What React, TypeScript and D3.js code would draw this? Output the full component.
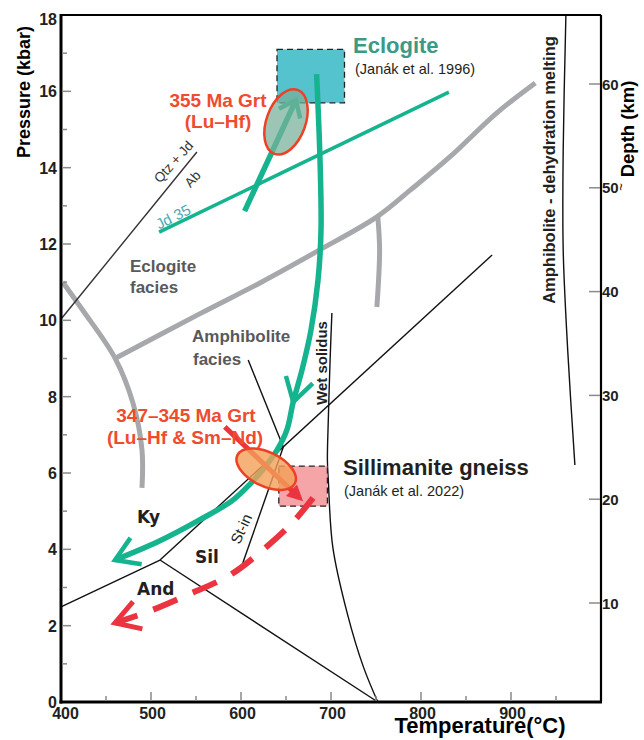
import React from "react";
import * as d3 from "d3";

type Pt = [number, number];

// ---- axes / ticks ----
const tempMajorTicks = [400, 500, 600, 700, 800, 900];
const tempMinorTicks = [450, 550, 650, 750, 850, 950];
const presMajorTicks = [0, 2, 4, 6, 8, 10, 12, 14, 16, 18];
const presMinorTicks = [1, 3, 5, 7, 9, 11, 13, 15, 17];
const depthTicks = [10, 20, 30, 40, 50, 60];

// ---- facies boundaries (T °C, P kbar) ----
const eclAmphBoundary: Pt[] = [[460, 9.0], [554, 10.17], [621, 10.98], [684, 11.8], [751, 12.71], [788, 13.41], [832, 14.28], [884, 15.43], [927, 16.22]];
const amphBranch: Pt[] = [[752, 12.71], [754, 11.84], [751, 10.35]];
const leftFaciesCurve: Pt[] = [[402, 11.0], [424, 10.27], [460, 9.01], [480, 7.83], [490, 6.6], [490, 5.61]];

// ---- reaction lines ----
const qtzJdAb: Pt[] = [[401, 10.06], [551, 14.41]];
const jd35: Pt[] = [[509, 12.31], [831, 15.98]];
const kyAnd: Pt[] = [[400, 2.49], [510, 3.72]];
const andSil: Pt[] = [[510, 3.72], [752, 0]];
const kySil: Pt[] = [[510, 3.72], [879, 11.71]];
const amphLeader: Pt[] = [[608, 8.96], [647, 6.68]];
const stIn: Pt[] = [[647, 6.68], [602, 3.64]];
const wetSolidus: Pt[] = [[701, 10.19], [699, 8.96], [697, 7.39], [696, 6.34], [697, 5.82], [702, 4.06], [718, 2.33], [736, 0.92], [752, 0.0]];
const amphMelting: Pt[] = [[961, 18], [958, 14.46], [958, 11.84], [963, 9.22], [971, 6.21]];

// ---- P-T paths ----
const progradePath: Pt[] = [[604, 12.86], [661, 15.77]];
const retroPath: Pt[] = [[684, 16.45], [687.8, 14.2], [688.9, 12.37], [685.6, 11.06], [677.8, 9.75], [667.8, 8.7], [658, 7.86], [651, 7.13], [640, 6.6], [624, 6.08], [610, 5.71], [591, 5.29], [554, 4.77], [507, 4.19], [460, 3.72]];
const retroMidArrowIndex = 6;
const sillPath: Pt[] = [[680, 5.35], [658, 4.72], [624, 3.98], [588, 3.33], [540, 2.8], [496, 2.36], [460, 2.07]];
const grtArrow: Pt[] = [[582, 7.21], [669, 5.26]];

// ---- boxes & ellipses ----
const eclogiteBoxT = [640, 715];
const eclogiteBoxP = [15.7, 17.1];
const sillBoxT = [642, 696];
const sillBoxP = [5.13, 6.18];
const grt355Center: Pt = [650, 15.2];
const grt347Center: Pt = [628, 6.1];

const x = d3.scaleLinear().domain([400, 1000]).range([61, 601]);
const y = d3.scaleLinear().domain([0, 18]).range([702, 15]);
const yd = d3.scaleLinear().domain([10, 60]).range([603, 84]);

const straight = d3.line<Pt>().x((d) => x(d[0])).y((d) => y(d[1]));
const smooth = d3.line<Pt>().x((d) => x(d[0])).y((d) => y(d[1])).curve(d3.curveCatmullRom.alpha(0.5));

function vHead(tip: Pt, from: Pt, len: number, halfDeg: number) {
  const tx = x(tip[0]), ty = y(tip[1]);
  const fx = x(from[0]), fy = y(from[1]);
  const ang = Math.atan2(fy - ty, fx - tx);
  const h = (halfDeg * Math.PI) / 180;
  const a1 = ang + h, a2 = ang - h;
  return `M${tx + len * Math.cos(a1)},${ty + len * Math.sin(a1)}L${tx},${ty}L${tx + len * Math.cos(a2)},${ty + len * Math.sin(a2)}`;
}

function solidHead(tip: Pt, from: Pt, len: number, halfW: number) {
  const tx = x(tip[0]), ty = y(tip[1]);
  const fx = x(from[0]), fy = y(from[1]);
  const ang = Math.atan2(fy - ty, fx - tx);
  const bx = tx + len * Math.cos(ang), by = ty + len * Math.sin(ang);
  const px = -Math.sin(ang), py = Math.cos(ang);
  return `M${tx},${ty}L${bx + halfW * px},${by + halfW * py}L${bx - halfW * px},${by - halfW * py}Z`;
}

const FONT = "'Liberation Sans', Arial, Helvetica, sans-serif";
const GREEN = "#15b48f";
const GRAY = "#a6a8ab";
const RED = "#ec3340";
const LABEL_RED = "#ee4b2f";
const DARK = "#231f20";

export default function App() {
  const arrowTip = grtArrow[1];
  const arrowFrom = grtArrow[0];
  const ax0 = x(arrowFrom[0]), ay0 = y(arrowFrom[1]);
  const ax1 = x(arrowTip[0]), ay1 = y(arrowTip[1]);
  const alen = Math.hypot(ax1 - ax0, ay1 - ay0);
  const shaftEnd = [ax1 - ((ax1 - ax0) / alen) * 12, ay1 - ((ay1 - ay0) / alen) * 12];

  return (
    <svg width={644} height={740} style={{ position: "absolute", left: 0, top: 0, background: "#fff" }} fontFamily={FONT}>
      {/* facies boundaries */}
      <g fill="none" stroke={GRAY} strokeWidth={5} strokeLinecap="butt">
        <path d={smooth(eclAmphBoundary) || ""} />
        <path d={smooth(amphBranch) || ""} />
        <path d={smooth(leftFaciesCurve) || ""} />
      </g>

      {/* reaction lines */}
      <g fill="none" stroke="#111" strokeWidth={1.4}>
        <path d={straight(kyAnd) || ""} />
        <path d={straight(andSil) || ""} />
        <path d={straight(kySil) || ""} />
        <path d={straight(amphLeader) || ""} />
        <path d={straight(stIn) || ""} />
        <path d={smooth(wetSolidus) || ""} />
        <path d={smooth(amphMelting) || ""} />
      </g>
      <path d={straight(qtzJdAb) || ""} fill="none" stroke="#333" strokeWidth={1.4} />
      <path d={straight(jd35) || ""} fill="none" stroke={GREEN} strokeWidth={3.5} />

      {/* boxes */}
      <rect x={x(eclogiteBoxT[0])} y={y(eclogiteBoxP[1])} width={x(eclogiteBoxT[1]) - x(eclogiteBoxT[0])} height={y(eclogiteBoxP[0]) - y(eclogiteBoxP[1])}
        fill="#55c3cd" stroke="#222" strokeWidth={1.3} strokeDasharray="6,4" />
      <rect x={x(sillBoxT[0])} y={y(sillBoxP[1])} width={x(sillBoxT[1]) - x(sillBoxT[0])} height={y(sillBoxP[0]) - y(sillBoxP[1])}
        fill="#f5a4a7" stroke="#222" strokeWidth={1.3} strokeDasharray="6,4" />

      {/* green P-T path */}
      <g fill="none" stroke={GREEN} strokeWidth={5.5}>
        <path d={straight(progradePath) || ""} />
        <path d={vHead(progradePath[1], progradePath[0], 19, 38)} strokeWidth={4.5} />
        <path d={smooth(retroPath) || ""} />
        <path d={vHead(retroPath[retroMidArrowIndex], retroPath[retroMidArrowIndex - 1], 27, 31)} strokeWidth={4.5} />
        <path d={vHead(retroPath[retroPath.length - 1], retroPath[retroPath.length - 2], 27, 32)} strokeWidth={4.5} />
      </g>

      {/* red dashed path */}
      <path d={smooth(sillPath) || ""} fill="none" stroke={RED} strokeWidth={6} strokeDasharray="26,17" />
      <path d={vHead(sillPath[sillPath.length - 1], sillPath[sillPath.length - 2], 28, 31)} fill="none" stroke={RED} strokeWidth={5} />

      {/* red solid arrow */}
      <line x1={ax0} y1={ay0} x2={shaftEnd[0]} y2={shaftEnd[1]} stroke={RED} strokeWidth={5} />
      <path d={solidHead(arrowTip, arrowFrom, 16, 8)} fill={RED} />

      {/* garnet ellipses */}
      <ellipse cx={x(grt355Center[0])} cy={y(grt355Center[1])} rx={19.5} ry={34} transform={`rotate(20 ${x(grt355Center[0])} ${y(grt355Center[1])})`}
        fill="rgb(119,175,153)" fillOpacity={0.73} stroke="#ee4024" strokeWidth={2.5} />
      <ellipse cx={x(grt347Center[0])} cy={y(grt347Center[1])} rx={32} ry={17} transform={`rotate(26 ${x(grt347Center[0])} ${y(grt347Center[1])})`}
        fill="rgb(243,160,88)" fillOpacity={0.8} stroke="#ee4024" strokeWidth={2.5} />

      {/* frame */}
      <line x1={x(400)} y1={y(18)} x2={x(1000)} y2={y(18)} stroke="#000" strokeWidth={2.2} />
      <line x1={x(1000)} y1={y(18)} x2={x(1000)} y2={y(0)} stroke="#000" strokeWidth={2.2} />
      <line x1={x(400)} y1={y(18) - 1} x2={x(400)} y2={y(0) + 1.5} stroke="#000" strokeWidth={3} />
      <line x1={x(400) - 1.5} y1={y(0)} x2={x(1000) + 1} y2={y(0)} stroke="#000" strokeWidth={3} />

      {/* ticks */}
      <g stroke="#8a8a8a" strokeWidth={1.5}>
        {presMajorTicks.filter((p) => p > 0 && p < 18).map((p) => (
          <line key={"pm" + p} x1={x(400) + 1} x2={x(400) + 10} y1={y(p)} y2={y(p)} />
        ))}
        {presMinorTicks.map((p) => (
          <line key={"pn" + p} x1={x(400) + 1} x2={x(400) + 6} y1={y(p)} y2={y(p)} />
        ))}
        {tempMajorTicks.filter((t) => t > 400).map((t) => (
          <line key={"tm" + t} x1={x(t)} x2={x(t)} y1={y(0) - 1} y2={y(0) - 10} />
        ))}
        {tempMinorTicks.map((t) => (
          <line key={"tn" + t} x1={x(t)} x2={x(t)} y1={y(0) - 1} y2={y(0) - 6} />
        ))}
        {depthTicks.map((d) => (
          <line key={"d" + d} x1={x(1000) - 12} x2={x(1000) - 1} y1={yd(d)} y2={yd(d)} />
        ))}
      </g>

      {/* tick labels */}
      <g fontWeight="bold" fontSize={16} fill={DARK}>
        {presMajorTicks.map((p) => (
          <text key={"pl" + p} x={57} y={y(p) + (p === 18 ? 10 : 6)} textAnchor="end">{p}</text>
        ))}
        {tempMajorTicks.map((t) => (
          <text key={"tl" + t} x={x(t) + (t === 400 ? 4.5 : 1.5)} y={719} textAnchor="middle">{t}</text>
        ))}
      </g>
      <g fontWeight="bold" fontSize={15} fill={DARK}>
        {depthTicks.map((d) => (
          <text key={"dl" + d} x={602} y={yd(d) + 5.5}>{d}</text>
        ))}
      </g>

      {/* axis titles */}
      <text transform="translate(30,92) rotate(-90)" textAnchor="middle" fontWeight="bold" fontSize={18} fill="#000">Pressure (kbar)</text>
      <text x={480} y={733} textAnchor="middle" fontWeight="bold" fontSize={22} fill="#000">Temperature(°C)</text>
      <text transform="translate(634,129) rotate(-90)" textAnchor="middle" fontWeight="bold" fontSize={18.5} fill="#000">Depth (km)</text>
      <text transform="translate(625,187) rotate(-90)" textAnchor="middle" fontSize={13} fill="#000">~</text>

      {/* annotations */}
      <text x={353} y={53} fontWeight="bold" fontSize={22} fill="#3a9a86">Eclogite</text>
      <text x={355} y={74} fontSize={14.5} fill={DARK}>(Janák et al. 1996)</text>

      <g fontWeight="bold" fontSize={19} fill={LABEL_RED} textAnchor="middle">
        <text x={218} y={107}>355 Ma Grt</text>
        <text x={218} y={128}>(Lu–Hf)</text>
        <text x={186} y={422}>347–345 Ma Grt</text>
        <text x={185} y={444}>(Lu–Hf &amp; Sm–Nd)</text>
      </g>

      <text x={343} y={475} fontWeight="bold" fontSize={22} fill={DARK}>Sillimanite gneiss</text>
      <text x={344} y={496} fontSize={14.5} fill={DARK}>(Janák et al. 2022)</text>

      <g fontWeight="bold" fontSize={17} fill="#58595b">
        <text x={130} y={272}>Eclogite</text>
        <text x={130} y={293}>facies</text>
        <text x={192} y={342}>Amphibolite</text>
        <text x={193} y={365}>facies</text>
      </g>

      <g fontWeight="bold" fontSize={17} fill={DARK} fontFamily="'DejaVu Sans', sans-serif">
        <text x={137} y={523}>Ky</text>
        <text x={195} y={563}>Sil</text>
        <text x={137} y={595}>And</text>
      </g>

      <text transform="translate(555,170) rotate(-90)" textAnchor="middle" fontWeight="bold" fontSize={16.5} fill={DARK}>Amphibolite - dehydration melting</text>
      <text transform="translate(327,363) rotate(-90)" textAnchor="middle" fontWeight="bold" fontSize={15} fill={DARK}>Wet solidus</text>
      <text transform="translate(246,531) rotate(-65)" textAnchor="middle" fontSize={15} fill={DARK}>St-in</text>
      <text transform="translate(177,165) rotate(-48)" textAnchor="middle" fontSize={13.5} fill="#333">Qtz + Jd</text>
      <text transform="translate(196,182) rotate(-48)" textAnchor="middle" fontSize={13.5} fill="#333">Ab</text>
      <text transform="translate(175.5,221.5) rotate(-27)" textAnchor="middle" fontSize={15} fill="#48a9b5">Jd 35</text>
    </svg>
  );
}
